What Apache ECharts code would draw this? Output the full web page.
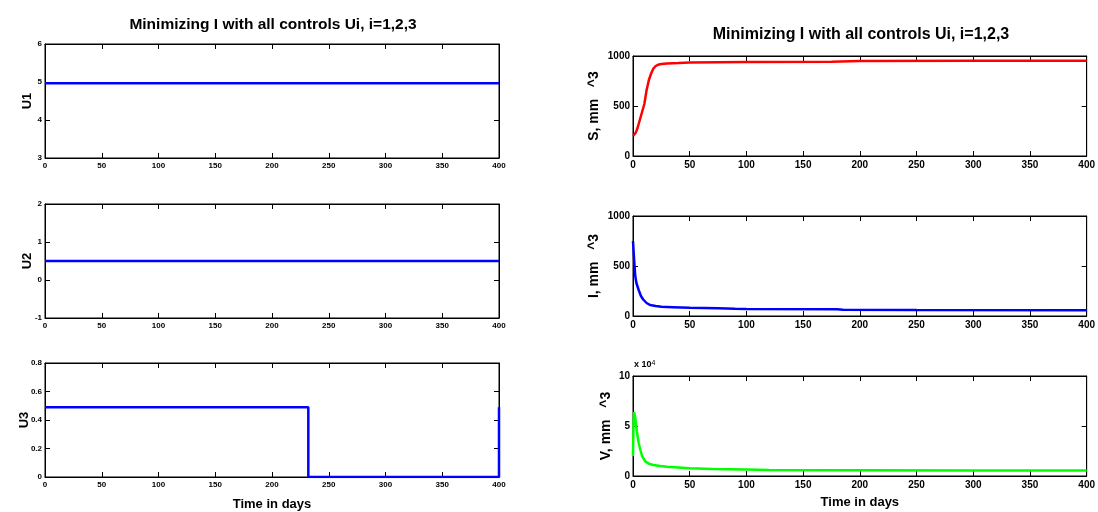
<!DOCTYPE html>
<html><head><meta charset="utf-8">
<script src="https://cdn.jsdelivr.net/npm/echarts@6/dist/echarts.min.js"></script>
<style>html,body{margin:0;padding:0;background:#fff}#c{width:1098px;height:512px}</style>
</head><body><div id="c"></div>
<script>
// ---- data ----
const titleText = "Minimizing I with all controls Ui, i=1,2,3";
const xTicks = [0,50,100,150,200,250,300,350,400];
const u1T = [0, 400], u1V = [4.97, 4.97];
const u2T = [0, 400], u2V = [0.5, 0.5];
const u3T = [0, 232, 232, 400, 400], u3V = [0.49, 0.49, 0, 0, 0.49];
const sT = [0,1,2,3,4,6,8,10,12,14,16,18,20,22,25,30,40,50,100,175,200,300,400];
const sV = [200,210,225,250,280,360,440,520,660,760,825,875,900,912,920,926,930,935,940,943,950,952,953];
const iT = [0,1,2,3,5,7,9,12,15,20,25,35,50,75,90,100,180,185,250,400];
const iV = [750,560,400,330,260,200,165,130,110,100,92,88,82,78,72,70,68,62,60,58];
const vT = [0,0.5,1,2,3.5,5,6.5,8,11,14,18,24,30,40,50,70,100,120,200,300,400];
const vV = [20000,55000,64000,58000,44000,33000,26000,20000,14300,12300,11000,10000,9300,8500,7700,7000,6500,6000,5800,5600,5500];
const yLabels = ["U1","U2","U3","S, mm   ^3","I, mm   ^3","V, mm   ^3"];

const FONT = "Liberation Sans";
const grids = [
  {left:45, top:44, width:454, height:114},
  {left:45, top:204, width:454, height:114},
  {left:45, top:363, width:454, height:114},
  {left:633, top:56, width:456, height:100},
  {left:633, top:216, width:456, height:100},
  {left:633, top:376, width:456, height:100}
];
const nameGaps = [11, 11, 14, 32, 32, 20];
const yCfg = [
  {min:3,max:6,interval:1},
  {min:-1,max:2,interval:1},
  {min:0,max:0.8,interval:0.2},
  {min:0,max:1000,interval:500},
  {min:0,max:1000,interval:500},
  {min:0,max:100000,interval:50000, fmt:v=>String(v/10000)}
];
const seriesData = [
  [u1T,u1V,'#0000ff'],[u2T,u2V,'#0000ff'],[u3T,u3V,'#0000ff'],
  [sT,sV,'#ff0000'],[iT,iV,'#0000ff'],[vT,vV,'#00ff00']
];
const xAxis=[], yAxis=[], series=[];
grids.forEach((g,k)=>{
  const left = k<3;
  const fs = left?8:10;
  const tickLen = 5;
  xAxis.push({type:'value',gridIndex:k,min:0,max:400,interval:50,
    axisLine:{show:true,onZero:false,lineStyle:{color:'#000',width:1}},
    axisTick:{inside:true,length:tickLen,lineStyle:{color:'#000'}},
    axisLabel:{fontSize:fs,fontWeight:'bold',color:'#000',fontFamily:FONT,margin:4,formatter:v=>String(v)},
    splitLine:{show:false},
    name:(k===2||k===5)?'Time in days':'', nameLocation:'middle', nameGap:left?21:20,
    nameTextStyle:{fontSize:13,fontWeight:'bold',color:'#000',fontFamily:FONT}});
  xAxis.push({type:'value',gridIndex:k,position:'top',min:0,max:400,interval:50,
    axisLine:{show:true,onZero:false,lineStyle:{color:'#000',width:1}},
    axisTick:{inside:true,length:tickLen,lineStyle:{color:'#000'}},
    axisLabel:{show:false},splitLine:{show:false}});
  const c = yCfg[k];
  yAxis.push({type:'value',gridIndex:k,min:c.min,max:c.max,interval:c.interval,
    axisLine:{show:true,onZero:false,lineStyle:{color:'#000',width:1}},
    axisTick:{inside:true,length:tickLen,lineStyle:{color:'#000'}},
    axisLabel:{fontSize:fs,fontWeight:'bold',color:'#000',fontFamily:FONT,margin:3,formatter:c.fmt||(v=>String(v))},
    splitLine:{show:false},
    name:yLabels[k],nameLocation:'middle',nameGap:nameGaps[k],nameMoveOverlap:false,
    nameTextStyle:{fontSize:left?13:14,fontWeight:'bold',color:'#000',fontFamily:FONT}});
  yAxis.push({type:'value',gridIndex:k,position:'right',min:c.min,max:c.max,interval:c.interval,
    axisLine:{show:true,onZero:false,lineStyle:{color:'#000',width:1}},
    axisTick:{inside:true,length:tickLen,lineStyle:{color:'#000'}},
    axisLabel:{show:false},splitLine:{show:false}});
  const [t,v,col] = seriesData[k];
  series.push({type:'line',xAxisIndex:2*k,yAxisIndex:2*k,showSymbol:false,
    data:t.map((x,i)=>[x,v[i]]),lineStyle:{color:col,width:2.5},itemStyle:{color:col},
    animation:false});
});
const chart = echarts.init(document.getElementById('c'),null,{renderer:'canvas'});
chart.setOption({
  backgroundColor:'#fff',
  animation:false,
  title:[
    {text:titleText,left:268,top:12,textAlign:'center',textStyle:{fontSize:15.5,fontWeight:'bold',color:'#000',fontFamily:FONT}},
    {text:titleText,left:856,top:22,textAlign:'center',textStyle:{fontSize:16,fontWeight:'bold',color:'#000',fontFamily:FONT}}
  ],
  grid:grids.map(g=>Object.assign({show:true,borderColor:'#000',borderWidth:1,backgroundColor:'#fff'},g)),
  xAxis, yAxis, series,
  graphic:[{type:'text',left:634,top:360,style:{text:'x 10{s|4}',rich:{s:{fontSize:7,verticalAlign:'top'}},fill:'#000',font:'bold 9px "Liberation Sans"'}}]
});
</script></body></html>
